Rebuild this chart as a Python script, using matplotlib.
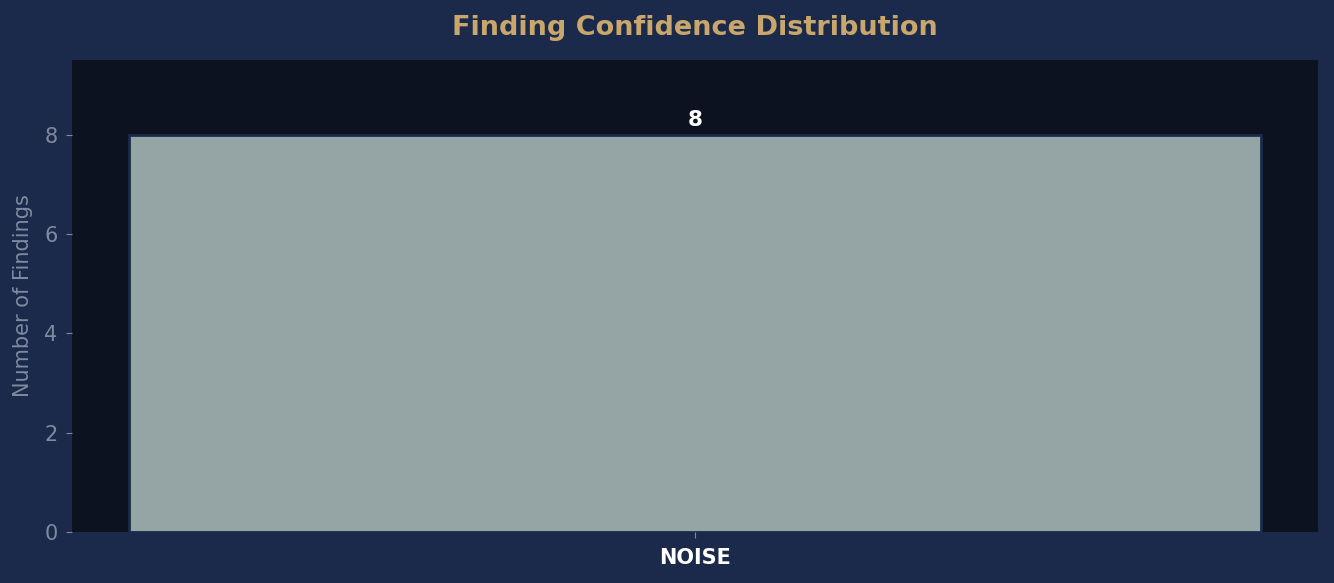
import matplotlib
matplotlib.use("Agg")
import matplotlib.pyplot as plt

categories = ["NOISE"]
counts = [8]

fig, ax = plt.subplots(figsize=(13.34, 5.83), dpi=100)
fig.patch.set_facecolor("#1b2a4a")
ax.set_facecolor("#0c1220")
fig.subplots_adjust(left=0.054, right=0.988, top=0.897, bottom=0.0875)

bars = ax.bar(categories, counts, width=0.8, color="#95a5a6",
              edgecolor="#1b2a4a", linewidth=2)
for b, v in zip(bars, counts):
    ax.text(b.get_x() + b.get_width() / 2, v + 0.09, str(v), ha="center",
            va="bottom", color="white", fontsize=15.5, fontweight="bold")

ax.set_ylim(0, 9.5)
ax.set_ylabel("Number of Findings", color="#7f8aa0", fontsize=15, labelpad=8)
ax.set_title("Finding Confidence Distribution", color="#c9a66b",
             fontsize=19.5, fontweight="bold", pad=18)
ax.tick_params(axis="y", colors="#7f8aa0", labelsize=15, length=4.5, pad=6)
ax.tick_params(axis="x", colors="#7f8aa0", labelsize=15, length=4.5, pad=7)
for lbl in ax.get_xticklabels():
    lbl.set_color("white")
    lbl.set_fontweight("bold")
for s in ax.spines.values():
    s.set_visible(False)

fig.savefig("out.png", dpi=100, facecolor=fig.get_facecolor())
